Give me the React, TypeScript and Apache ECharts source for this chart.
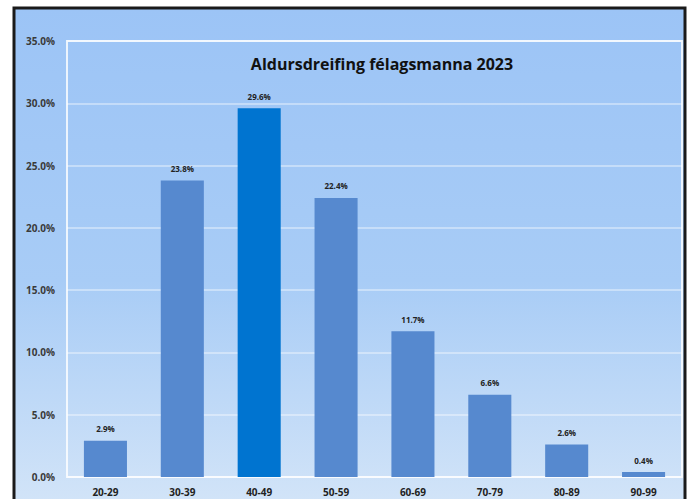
import React, { useEffect, useRef } from "react";
import * as echarts from "echarts";

const categories = ["20-29", "30-39", "40-49", "50-59", "60-69", "70-79", "80-89", "90-99"];
const values = [2.9, 23.8, 29.6, 22.4, 11.7, 6.6, 2.6, 0.4];
const highlightIndex = 2;
const title = "Aldursdreifing félagsmanna 2023";

export default function App() {
  const ref = useRef<HTMLDivElement>(null);
  useEffect(() => {
    if (!ref.current) return;
    const chart = echarts.init(ref.current, null, { renderer: "svg" });
    const font = "'Open Sans', 'Noto Sans', sans-serif";
    chart.setOption({
      animation: false,
      backgroundColor: "#ffffff",
      graphic: [
        {
          type: "rect",
          z: -10,
          shape: { x: 14, y: 8, width: 671, height: 495 },
          style: {
            fill: new echarts.graphic.LinearGradient(0, 0, 0, 1, [
              { offset: 0, color: "#9cc4f6" },
              { offset: 0.55, color: "#a8ccf6" },
              { offset: 1, color: "#d2e4f8" },
            ]),
            stroke: "#1a1a1a",
            lineWidth: 3,
          },
        },
        {
          type: "text",
          x: 382,
          y: 64,
          style: {
            text: title,
            textAlign: "center",
            textVerticalAlign: "middle",
            font: `bold 16px ${font}`,
            fill: "#111111",
          },
        },
      ],
      grid: {
        left: 67,
        right: 10,
        top: 41,
        bottom: 22,
        show: true,
        borderColor: "rgba(255,255,255,0.8)",
        borderWidth: 2,
        backgroundColor: "transparent",
      },
      xAxis: {
        type: "category",
        data: categories,
        axisLine: { show: false },
        axisTick: { show: false },
        axisLabel: {
          color: "#222222",
          fontFamily: font,
          fontWeight: "bold",
          fontSize: 10,
          margin: 10,
        },
      },
      yAxis: {
        type: "value",
        min: 0,
        max: 35,
        interval: 5,
        axisLine: { show: false },
        axisTick: { show: false },
        splitLine: { lineStyle: { color: "rgba(255,255,255,0.5)", width: 1.5 } },
        axisLabel: {
          color: "#3a3a3a",
          fontFamily: font,
          fontWeight: "bold",
          fontSize: 10,
          margin: 12,
          formatter: (v: number) => v.toFixed(1) + "%",
        },
      },
      series: [
        {
          type: "bar",
          barWidth: "56%",
          data: values.map((v, i) => ({
            value: v,
            itemStyle: { color: i === highlightIndex ? "#0074d0" : "#5689cf" },
          })),
          label: {
            show: true,
            position: "top",
            distance: 8,
            color: "#222222",
            fontFamily: font,
            fontWeight: "bold",
            fontSize: 8,
            formatter: (p: any) => p.value.toFixed(1) + "%",
          },
        },
      ],
    });
    return () => chart.dispose();
  }, []);
  return (
    <div
      ref={ref}
      style={{ position: "fixed", left: 0, top: 0, width: 692, height: 499 }}
    />
  );
}
